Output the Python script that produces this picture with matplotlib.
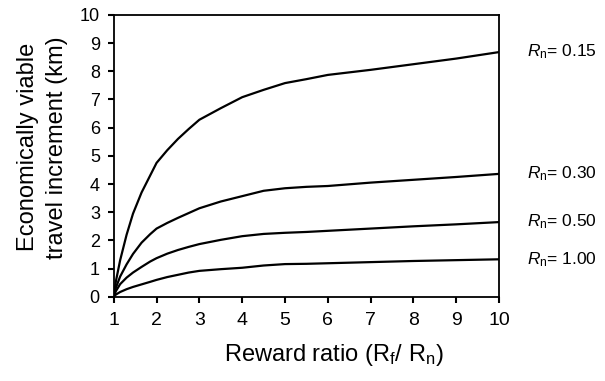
import matplotlib
matplotlib.use("Agg")
import matplotlib.pyplot as plt

plt.rcParams['font.family'] = ['Liberation Sans', 'DejaVu Sans']
plt.rcParams['mathtext.fontset'] = 'custom'
plt.rcParams['mathtext.rm'] = 'Liberation Sans'
plt.rcParams['mathtext.it'] = 'Liberation Sans:italic'

reward_ratio = [1, 1.05, 1.15, 1.3, 1.45, 1.65, 1.85, 2, 2.25, 2.5, 2.75, 3, 3.5, 4, 4.5, 5, 5.5, 6, 7, 8, 9, 10]
rn_015 = [0, 0.55, 1.3, 2.2, 2.95, 3.7, 4.3, 4.75, 5.2, 5.6, 5.95, 6.28, 6.69, 7.08, 7.34, 7.58, 7.72, 7.87, 8.05, 8.25, 8.45, 8.68]
rn_030 = [0, 0.32, 0.72, 1.15, 1.52, 1.92, 2.22, 2.42, 2.62, 2.8, 2.97, 3.14, 3.38, 3.57, 3.76, 3.85, 3.9, 3.93, 4.05, 4.15, 4.25, 4.36]
rn_050 = [0, 0.2, 0.45, 0.68, 0.86, 1.06, 1.25, 1.37, 1.53, 1.66, 1.77, 1.87, 2.02, 2.15, 2.23, 2.27, 2.3, 2.34, 2.42, 2.5, 2.57, 2.65]
rn_100 = [0, 0.08, 0.17, 0.27, 0.35, 0.44, 0.53, 0.6, 0.7, 0.78, 0.86, 0.92, 0.98, 1.03, 1.11, 1.16, 1.17, 1.19, 1.23, 1.27, 1.3, 1.33]
series = [rn_015, rn_030, rn_050, rn_100]
labels = ["0.15", "0.30", "0.50", "1.00"]
x_ticks = list(range(1, 11))
y_ticks = list(range(0, 11))

fig = plt.figure(figsize=(6.05, 3.81), dpi=100)
ax = fig.add_axes([0.188, 0.221, 0.637, 0.740])

for ys, lab in zip(series, labels):
    ax.plot(reward_ratio, ys, color='black', lw=1.6, solid_joinstyle='round')
    ax.annotate(r"$R_{\rm n}$= " + lab, xy=(reward_ratio[-1], ys[-1]),
                xytext=(20, 0), textcoords='offset points', va='center', ha='left',
                fontsize=12.5, annotation_clip=False)

ax.set_xlim(1, 10)
ax.set_ylim(0, 10)
ax.set_xticks(x_ticks)
ax.set_yticks(y_ticks)
ax.tick_params(axis='both', direction='out', length=4, width=1.5, color='black')
ax.tick_params(axis='x', pad=7, labelsize=14)
ax.tick_params(axis='y', pad=6, labelsize=13)
for s in ax.spines.values():
    s.set_linewidth(1.3)

ax.set_xlabel(r"Reward ratio (R$_{\rm f}$/ R$_{\rm n}$)", fontsize=17)
ax.xaxis.set_label_coords(0.57, -0.16)
ax.set_ylabel("Economically viable\ntravel increment (km)", fontsize=17, linespacing=1.45)
ax.yaxis.set_label_coords(-0.118, 0.53)

fig.savefig("out.png", dpi=100)
